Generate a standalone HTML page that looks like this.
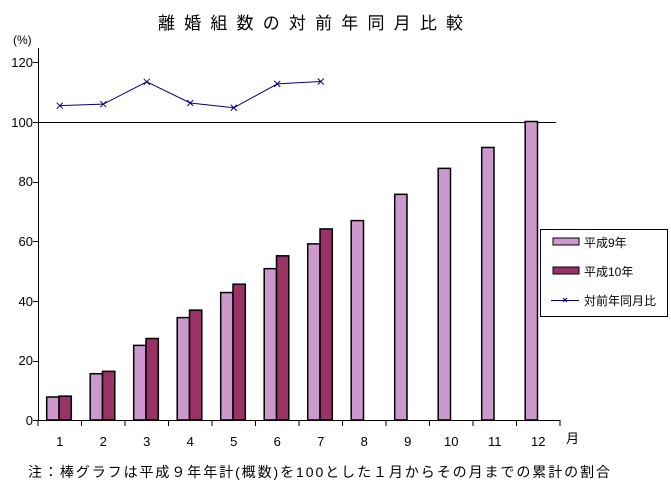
<!DOCTYPE html>
<html><head><meta charset="utf-8"><style>
body{margin:0;background:#fff;}
svg text{font-family:"Liberation Sans","Noto Sans CJK JP",sans-serif;fill:#000;}
</style></head><body>
<svg width="671" height="490" viewBox="0 0 671 490" xmlns="http://www.w3.org/2000/svg">
<rect width="671" height="490" fill="#fff"/>
<text x="158" y="29" font-size="17" textLength="305" lengthAdjust="spacing">離婚組数の対前年同月比較</text>
<text x="13" y="44" font-size="12">(%)</text>
<g font-size="13" text-anchor="end">
<text x="33" y="425">0</text><text x="33" y="365">20</text><text x="33" y="306">40</text>
<text x="33" y="246">60</text><text x="33" y="186">80</text><text x="33" y="127">100</text><text x="33" y="67">120</text>
</g>
<g stroke="#000" stroke-width="1">
<line x1="38.5" y1="48" x2="38.5" y2="421"/>
<line x1="33" y1="62.5" x2="38" y2="62.5"/><line x1="33" y1="122.5" x2="38" y2="122.5"/>
<line x1="33" y1="182.5" x2="38" y2="182.5"/><line x1="33" y1="241.5" x2="38" y2="241.5"/>
<line x1="33" y1="301.5" x2="38" y2="301.5"/><line x1="33" y1="361.5" x2="38" y2="361.5"/>
<line x1="33" y1="420.5" x2="560" y2="420.5"/>
<line x1="38" y1="122.5" x2="556" y2="122.5"/>
</g>
<g id="bars" stroke="#000" stroke-width="1.5"></g>
<g id="ticks" stroke="#000"></g>
<g id="xl" font-size="13" text-anchor="middle"></g>
<text x="566" y="443" font-size="13">月</text>
<polyline id="ln" fill="none" stroke="#000080" stroke-width="1"/>
<g id="mk" stroke="#000080" stroke-width="1"></g>
<rect x="540.5" y="229.5" width="127" height="87" fill="#fff" stroke="#000"/>
<rect x="553" y="238" width="26" height="7" fill="#cc99cc" stroke="#000"/>
<text x="584" y="247" font-size="12">平成9年</text>
<rect x="553" y="267" width="26" height="7" fill="#993366" stroke="#000"/>
<text x="584" y="276" font-size="12">平成10年</text>
<line x1="551" y1="300.5" x2="579" y2="300.5" stroke="#000080"/>
<line x1="563" y1="298" x2="567" y2="302" stroke="#000080"/><line x1="563" y1="302" x2="567" y2="298" stroke="#000080"/>
<text x="584" y="305" font-size="12">対前年同月比</text>
<text x="28" y="477" font-size="14" textLength="582" lengthAdjust="spacing">注：棒グラフは平成９年年計(概数)を100とした１月からその月までの累計の割合</text>
</svg>
<script>
var ns="http://www.w3.org/2000/svg";
var a=[7.7,15.5,25,34.3,42.7,50.7,59,66.8,75.6,84.3,91.3,100],b=[8,16.3,27.3,36.8,45.5,55,64];
var l=[105.3,105.8,113.3,106.2,104.6,112.6,113.4];
function y(v){return 420-v*2.985;}
function el(t,p,at){var e=document.createElementNS(ns,t);for(var k in at)e.setAttribute(k,at[k]);p.appendChild(e);return e;}
var B=document.getElementById("bars"),T=document.getElementById("ticks"),X=document.getElementById("xl"),M=document.getElementById("mk");
var pts=[];
for(var i=0;i<12;i++){var s=38+i*43.5;
el("rect",B,{x:s+8.7,y:y(a[i]),width:12.3,height:420-y(a[i]),fill:"#cc99cc"});
if(i<7)el("rect",B,{x:s+21,y:y(b[i]),width:12.3,height:420-y(b[i]),fill:"#993366"});
el("line",T,{x1:s+43.5,y1:420,x2:s+43.5,y2:426});
var t=el("text",X,{x:s+21.75,y:446});t.textContent=i+1;
if(i<7){var cx=s+21.75,cy=y(l[i]);pts.push(cx+","+cy);
el("line",M,{x1:cx-3,y1:cy-3,x2:cx+3,y2:cy+3});el("line",M,{x1:cx-3,y1:cy+3,x2:cx+3,y2:cy-3});}
}
el("line",T,{x1:38,y1:420,x2:38,y2:426});
document.getElementById("ln").setAttribute("points",pts.join(" "));
</script>
</body></html>
